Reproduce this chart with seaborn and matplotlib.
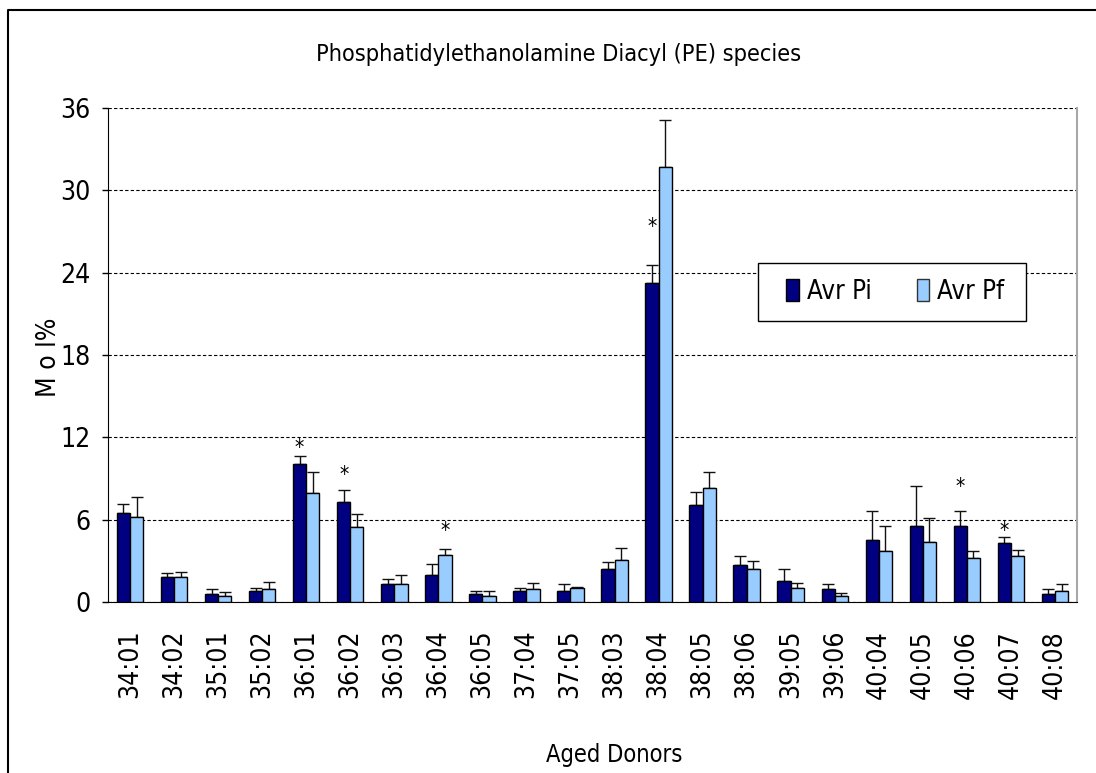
import matplotlib
matplotlib.use("Agg")
import matplotlib.pyplot as plt
import seaborn as sns
import pandas as pd
import numpy as np
from matplotlib.lines import Line2D
from matplotlib.patches import Patch, Rectangle

categories = ["34:01", "34:02", "35:01", "35:02", "36:01", "36:02", "36:03", "36:04",
              "36:05", "37:04", "37:05", "38:03", "38:04", "38:05", "38:06", "39:05",
              "39:06", "40:04", "40:05", "40:06", "40:07", "40:08"]
avr_pi = [6.46, 1.85, 0.58, 0.80, 10.06, 7.26, 1.29, 1.97, 0.58, 0.80, 0.80,
          2.40, 23.25, 7.05, 2.67, 1.51, 0.92, 4.49, 5.54, 5.54, 4.28, 0.56]
avr_pi_err = [0.71, 0.24, 0.34, 0.24, 0.56, 0.93, 0.41, 0.80, 0.22, 0.24, 0.49,
              0.49, 1.29, 0.95, 0.71, 0.92, 0.37, 2.12, 2.89, 1.07, 0.48, 0.36]
avr_pf = [6.22, 1.85, 0.46, 0.92, 7.97, 5.44, 1.29, 3.45, 0.46, 0.92, 1.02,
          3.09, 31.68, 8.31, 2.40, 1.02, 0.46, 3.69, 4.40, 3.23, 3.35, 0.80]
avr_pf_err = [1.41, 0.36, 0.25, 0.56, 1.53, 1.00, 0.68, 0.39, 0.34, 0.46, 0.10,
              0.85, 3.47, 1.19, 0.61, 0.36, 0.22, 1.85, 1.75, 0.46, 0.46, 0.49]
series_names = ["Avr Pi", "Avr Pf"]
# significance markers: (category, series, height of star)
star_cats = ["36:01", "36:02", "36:04", "38:04", "40:06", "40:07"]
star_series = ["Avr Pi", "Avr Pi", "Avr Pf", "Avr Pi", "Avr Pi", "Avr Pi"]
star_y = [11.2, 9.26, 5.17, 27.3, 8.36, 5.2]
y_ticks = [0, 6, 12, 18, 24, 30, 36]

title = "Phosphatidylethanolamine Diacyl (PE) species"
xlabel = "Aged Donors"
ylabel = "M o l%"

colors = ["#000080", "#99CCFF"]

sns.set_style("white")
plt.rcParams["font.family"] = ["DejaVu Sans"]
plt.rcParams["font.stretch"] = "condensed"
for k in ["text.color", "axes.labelcolor", "xtick.color", "ytick.color"]:
    plt.rcParams[k] = "black"

df = pd.DataFrame({
    "cat": categories * 2,
    "val": avr_pi + avr_pf,
    "series": [series_names[0]] * len(categories) + [series_names[1]] * len(categories),
})
errs = {series_names[0]: avr_pi_err, series_names[1]: avr_pf_err}

fig = plt.figure(figsize=(10.96, 7.73), dpi=100)
ax = fig.add_axes([108 / 1096, 1 - 602 / 773, 969 / 1096, 494 / 773])

sns.barplot(data=df, x="cat", y="val", hue="series", palette=colors, width=0.6,
            saturation=1, errorbar=None, edgecolor="black", linewidth=1.0, ax=ax,
            legend=False, order=categories, hue_order=series_names)

centers = {}
for cont, name in zip(ax.containers, series_names):
    xs = np.array([p.get_x() + p.get_width() / 2 for p in cont.patches])
    hs = np.array([p.get_height() for p in cont.patches])
    e = np.array(errs[name])
    ax.errorbar(xs, hs, yerr=[np.zeros_like(e), e], fmt="none", ecolor="#111111",
                elinewidth=1.0, capsize=4.5, capthick=1.0, zorder=1)
    centers[name] = dict(zip(categories, xs))
    for p in cont.patches:
        p.set_zorder(3)

for c, s, y in zip(star_cats, star_series, star_y):
    ax.text(centers[s][c], y, "*", ha="center", va="center", fontsize=15, zorder=5)

ax.set_ylim(0, 36)
ax.set_xlim(-0.5, len(categories) - 0.5)
ax.set_yticks(y_ticks)
ax.set_yticklabels([str(t) for t in y_ticks], fontsize=19)
ax.set_xticks(range(len(categories)))
ax.set_xticklabels(categories, rotation=90, fontsize=19, va="top")
ax.tick_params(axis="x", which="major", length=0, pad=20)
ax.set_xticks(np.arange(-0.5, len(categories), 1.0), minor=True)
ax.tick_params(axis="x", which="minor", length=7, width=1, direction="out", color="black")
ax.tick_params(axis="y", which="major", length=4.5, width=1, direction="out", pad=8, left=True, color="black")

ax.yaxis.grid(True, linestyle=(0, (3, 2)), color="black", linewidth=0.8)
ax.set_axisbelow(True)
ax.spines["top"].set_visible(False)
ax.spines["right"].set_color("#A8A8A8")
ax.spines["right"].set_linewidth(1.5)
ax.spines["left"].set_color("black")
ax.spines["bottom"].set_color("black")
ax.set_xlabel("")
ax.set_ylabel("")

fig.text(49 / 1096, 1 - 357 / 773, ylabel, rotation=90, ha="center", va="center", fontsize=19)
fig.text(559 / 1096, 1 - 55 / 773, title, ha="center", va="center", fontsize=16.8)
fig.text(614 / 1096, 1 - 755 / 773, xlabel, ha="center", va="center", fontsize=17)

# legend frame
ax.add_patch(Rectangle((0.671, 0.569), 0.276, 0.117, transform=ax.transAxes,
                       facecolor="white", edgecolor="black", linewidth=1.0, zorder=6))
handles = [Patch(facecolor=colors[0], edgecolor="black", linewidth=1.0),
           Patch(facecolor=colors[1], edgecolor="#333333", linewidth=1.0)]
leg = ax.legend(handles, series_names, loc="center left", bbox_to_anchor=(0.700, 0.6275),
                ncol=2, frameon=False, fontsize=18.5, handlelength=0.5,
                handleheight=0.95, handletextpad=0.3, columnspacing=1.75,
                borderpad=0, borderaxespad=0)
leg.set_zorder(7)

fig.add_artist(Line2D([7.5 / 1096, 7.5 / 1096, 1.0], [0.0, 1 - 10 / 773, 1 - 10 / 773],
                      transform=fig.transFigure, color="black", linewidth=1.5))

fig.savefig("out.png", dpi=100)
